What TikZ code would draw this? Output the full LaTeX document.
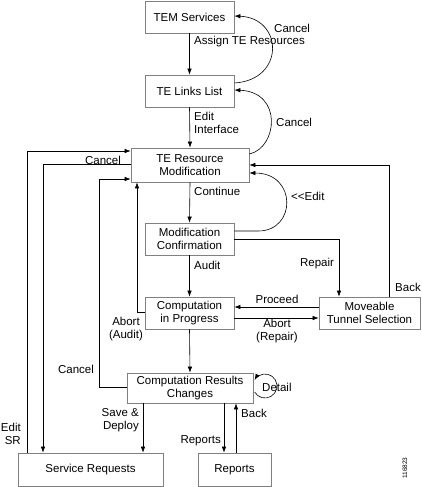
\documentclass[tikz,border=0pt]{standalone}
\usepackage{fontspec}
\setmainfont{Liberation Sans}
\usetikzlibrary{arrows.meta,calc}
\begin{document}
\begin{tikzpicture}[x=1pt,y=-1pt,
  box/.style={draw=black!50,line width=0.7pt,fill=white,inner sep=1pt,align=center,font=\fontsize{11.5}{12.5}\selectfont},
  lbl/.style={inner sep=0pt,align=center,font=\fontsize{11.5}{13}\selectfont},
  conn/.style={line width=0.6pt,-{Latex[length=6pt,width=4.5pt]}},
  plain/.style={line width=0.6pt}]
\useasboundingbox (0,0) rectangle (421,487);
% boxes
\node[box,minimum width=89pt,minimum height=32pt] (tem) at (189.5,17) {TEM Services};
\node[box,minimum width=89pt,minimum height=32pt] (links) at (189.5,91) {TE Links List};
\node[box,minimum width=118pt,minimum height=34pt] (resmod) at (190,165) {TE Resource\\Modification};
\node[box,minimum width=89pt,minimum height=32pt] (modconf) at (189.5,239) {Modification\\Confirmation};
\node[box,minimum width=89pt,minimum height=32pt] (cip) at (189.5,313) {Computation\\in Progress};
\node[box,minimum width=101pt,minimum height=32pt] (mts) at (369.5,313) {Moveable\\Tunnel Selection};
\node[box,minimum width=126pt,minimum height=30pt] (crc) at (190,388) {Computation Results\\Changes};
\node[box,minimum width=145pt,minimum height=33pt] (sr) at (90.5,469.5) {Service Requests};
\node[box,minimum width=73pt,minimum height=33pt] (rep) at (234.5,469.5) {Reports};
% vertical main flow
\draw[conn] (tem.south) -- (links.north);
\draw[conn] (links.south) -- (resmod.north);
\draw[conn] (resmod.south) -- (modconf.north);
\draw[conn] (modconf.south) -- (cip.north);
\draw[conn] (cip.south) -- (crc.south |- crc.north);
% curves
\draw[conn] ([yshift=8pt]links.east) .. controls +(51,-3) and +(49,2) .. ([yshift=1pt]tem.east);
\draw[conn] ([yshift=11pt]resmod.east) .. controls +(28,-6) and +(49,2) .. ([yshift=1pt]links.east);
\draw[conn] ([yshift=8pt]modconf.east) -- +(24,0) .. controls +(38,0) and +(48,0) .. ([yshift=-8pt]resmod.east);
% repair / proceed / abort
\draw[conn] ([yshift=0pt]modconf.east) -- (339,239) -- (mts.north -| 339,0);
\draw[conn] ([yshift=6pt]mts.west) -- ([yshift=6pt]cip.east);
\draw[conn] ([yshift=-5pt]cip.east) -- ([yshift=-5pt]mts.west);
% back from mts
\draw[conn] (mts.north -| 389,0) -- (389,165) -- (resmod.east);
% abort audit
\draw[conn] ([yshift=1pt]cip.west) -- (137,312) -- (resmod.south -| 137,0);
% cancel from crc
\draw[conn] ([yshift=1pt]crc.west) -- (99,387) -- (99,179) -- ([yshift=-14pt]resmod.west);
% cancel from resmod to sr
\draw[conn] ([yshift=1pt]resmod.west) -- (43,164) -- (sr.north -| 43,0);
% edit SR
\draw[conn] (sr.north -| 27,0) -- (27,151) -- ([yshift=14pt]resmod.west);
% save & deploy, reports, back
\draw[conn] (crc.south -| 143,0) -- (sr.north -| 143,0);
\draw[conn] (crc.south -| 224,0) -- (rep.north -| 224,0);
\draw[conn] (rep.north -| 236,0) -- (crc.south -| 236,0);
% detail loop
\draw[conn] (254.6,392) arc[start angle=-150,end angle=150,radius=12pt];
% labels
\node[lbl,anchor=west] at (194,42) {Assign TE Resources};
\node[lbl,anchor=west] at (274,28) {Cancel};
\node[lbl,anchor=west,align=left] at (194,123) {Edit\\Interface};
\node[lbl,anchor=west] at (276,122) {Cancel};
\node[lbl,anchor=west] at (194,191) {Continue};
\node[lbl,anchor=west] at (291,196) {{<}{<}Edit};
\node[lbl,anchor=west] at (194,265) {Audit};
\node[lbl] at (317,264) {Repair};
\node[lbl] at (277,299) {Proceed};
\node[lbl] at (277,331) {Abort\\(Repair)};
\node[lbl,anchor=west] at (395,287) {Back};
\node[lbl] at (126,329) {Abort\\(Audit)};
\node[lbl,anchor=south] at (103,165) {Cancel};
\node[lbl] at (76,369) {Cancel};
\node[lbl,anchor=west] at (262,387) {Detail};
\node[lbl,anchor=east,align=right] at (139,420) {Save \&\\Deploy};
\node[lbl,anchor=east] at (221,441) {Reports};
\node[lbl,anchor=west] at (241,413) {Back};
\node[lbl,anchor=east,align=right] at (21,434) {Edit\\SR};
\node[inner sep=0pt,rotate=90,font=\fontsize{6.5}{7}\selectfont] (num) at (405,468) {116823};
\end{tikzpicture}
\end{document}
